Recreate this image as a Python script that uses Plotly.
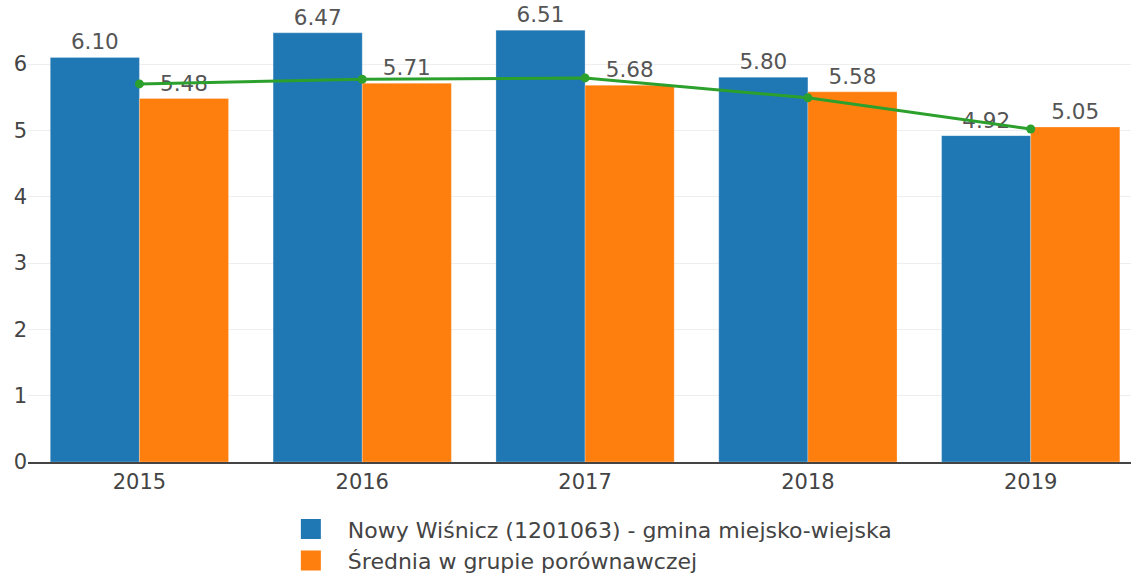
import plotly.graph_objects as go

years = ["2015", "2016", "2017", "2018", "2019"]
gmina = [6.10, 6.47, 6.51, 5.80, 4.92]
srednia = [5.48, 5.71, 5.68, 5.58, 5.05]
trend = [5.70, 5.77, 5.79, 5.49, 5.02]

name_gmina = "Nowy Wiśnicz (1201063) - gmina miejsko-wiejska"
name_sred = "Średnia w grupie porównawczej"
blue = "#1f77b4"
orange = "#ff7f0e"
green = "#2ca02c"

fig = go.Figure()
fig.add_trace(go.Bar(
    x=years, y=gmina, name=name_gmina, showlegend=False,
    marker=dict(color=blue, line=dict(color="rgba(255,255,255,0.5)", width=0.5)),
    text=[f"{v:.2f}" for v in gmina], textposition="outside",
    textfont=dict(color="#555555", size=21.5), cliponaxis=False,
))
fig.add_trace(go.Bar(
    x=years, y=srednia, name=name_sred, showlegend=False,
    marker=dict(color=orange, line=dict(color="rgba(255,255,255,0.5)", width=0.5)),
    text=[f"{v:.2f}" for v in srednia], textposition="outside",
    textfont=dict(color="#555555", size=21.5), cliponaxis=False,
))
fig.add_trace(go.Scatter(
    x=years, y=trend, mode="lines+markers", showlegend=False,
    line=dict(color=green, width=3), marker=dict(color=green, size=9),
))
# legend-only entries with larger square swatches
for i, (nm, col) in enumerate([(name_gmina, blue), (name_sred, orange)]):
    fig.add_trace(go.Scatter(
        x=[None], y=[None], mode="markers", name=nm, legendgroup=f"g{i}",
        marker=dict(symbol="square", color=col, size=16, line=dict(color=col, width=4)),
    ))

fig.update_layout(
    width=1131, height=573,
    barmode="group", bargap=0.2, bargroupgap=0,
    plot_bgcolor="white", paper_bgcolor="white",
    font=dict(family="DejaVu Sans", size=21, color="#444444"),
    margin=dict(l=27.5, r=0, t=0, b=111, autoexpand=False),
    xaxis=dict(type="category", range=[-0.5, 4.45], showgrid=False, automargin=False,
               showline=True, linecolor="#444444", linewidth=1.5,
               ticks="", tickfont=dict(size=21, color="#444444")),
    yaxis=dict(range=[0, 6.965], dtick=1, showgrid=True, gridcolor="#eeeeee",
               automargin=False, zeroline=False, ticks="",
               tickfont=dict(size=21, color="#444444")),
    legend=dict(orientation="v", x=0.2229, xanchor="left", y=-0.1, yanchor="top",
                itemwidth=64, tracegroupgap=0,
                font=dict(size=22, color="#444444"), bgcolor="rgba(0,0,0,0)"),
    showlegend=True,
)

fig.write_html("out.html", config={"displayModeBar": False},
               post_script="document.body.style.margin='0px';")
